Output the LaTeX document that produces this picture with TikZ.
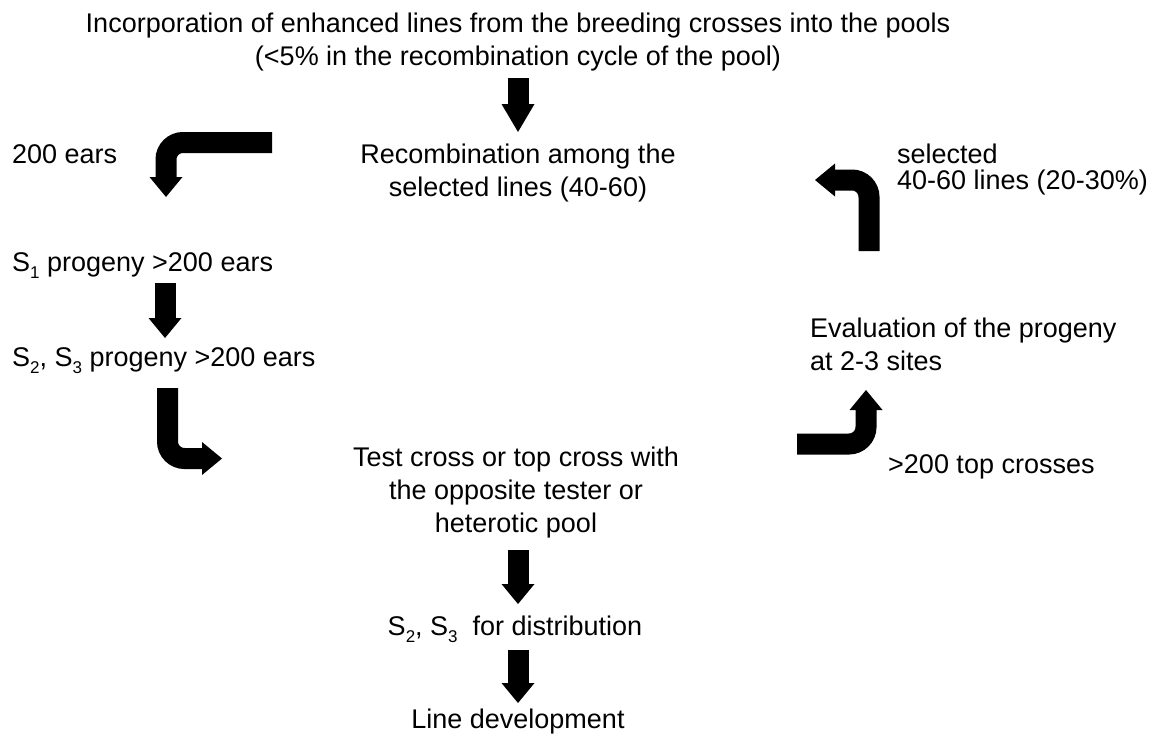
\documentclass[tikz,border=0pt]{standalone}
\usepackage{fontspec}
\setmainfont{Liberation Sans}
\usetikzlibrary{positioning, calc, arrows.meta}

\newcommand{\lowidx}[1]{\raisebox{-0.28em}{\fontsize{17}{17}\selectfont #1}}

\begin{document}
\begin{tikzpicture}[x=1pt, y=-1pt,
    txt/.style={inner sep=0pt, anchor=base, align=center, font=\fontsize{27}{33}\selectfont},
    txtl/.style={txt, anchor=base west, align=left},
    bigarrow/.style={line width=21pt, rounded corners=17pt,
        -{Triangle[width=33pt, length=20pt, line width=0pt]}}]
    \useasboundingbox (0,0) rectangle (1156,739);

    % 1. Cac dong chu (cot giua) - moc la dong cuoi
    \node[txt] (pool) at (518,65) {Incorporation of enhanced lines from the breeding crosses into the pools\\(<5\% in the recombination cycle of the pool)};
    \node[txt] (recomb) at (518,196) {Recombination among the\\selected lines (40-60)};
    \node[txt] (test) at (516,532) {Test cross or top cross with\\the opposite tester or\\heterotic pool};
    \node[txt] (distr) at (515,635) {S\lowidx{2}, S\lowidx{3}\ \ for distribution};
    \node[txt] (linedev) at (518,728) {Line development};

    % 2. Cot trai
    \node[txtl] (ears) at (12,163) {200 ears};
    \node[txtl] (sone) at (12,271) {S\lowidx{1} progeny >200 ears};
    \node[txtl] (stwo) at (12,366) {S\lowidx{2}, S\lowidx{3} progeny >200 ears};

    % 3. Cot phai
    \node[txtl, font=\fontsize{27}{26}\selectfont] (sel) at (897,189) {selected\\ 40-60 lines (20-30\%)};
    \node[txtl] (eval) at (810,370) {Evaluation of the progeny\\at 2-3 sites};
    \node[txtl] (topx) at (888,473) {>200 top crosses};

    % 4. Cac diem dau/cuoi cua mui ten
    \coordinate (a1s) at (518,78);   \coordinate (a1e) at (518,132);
    \coordinate (a2s) at (272,142.5); \coordinate (a2k) at (166,142.5); \coordinate (a2e) at (166,197);
    \coordinate (a3s) at (165,283);  \coordinate (a3e) at (165,338);
    \coordinate (a4s) at (167.5,388); \coordinate (a4k) at (167.5,458.5); \coordinate (a4e) at (222,458.5);
    \coordinate (a5s) at (797,444);  \coordinate (a5k) at (866,444); \coordinate (a5e) at (866,390);
    \coordinate (a6s) at (869,251);  \coordinate (a6k) at (869,180); \coordinate (a6e) at (815,180);
    \coordinate (a7s) at (518,550);  \coordinate (a7e) at (518,604);
    \coordinate (a8s) at (518,650);  \coordinate (a8e) at (518,703);

    % 5. Mui ten
    \draw[bigarrow, -{Triangle[width=33pt, length=28pt, line width=0pt]}] (a1s) -- (a1e);
    \draw[bigarrow] (a2s) -- (a2k) -- (a2e);
    \draw[bigarrow] (a3s) -- (a3e);
    \draw[bigarrow] (a4s) -- (a4k) -- (a4e);
    \draw[bigarrow] (a5s) -- (a5k) -- (a5e);
    \draw[bigarrow] (a6s) -- (a6k) -- (a6e);
    \draw[bigarrow] (a7s) -- (a7e);
    \draw[bigarrow] (a8s) -- (a8e);
\end{tikzpicture}
\end{document}
